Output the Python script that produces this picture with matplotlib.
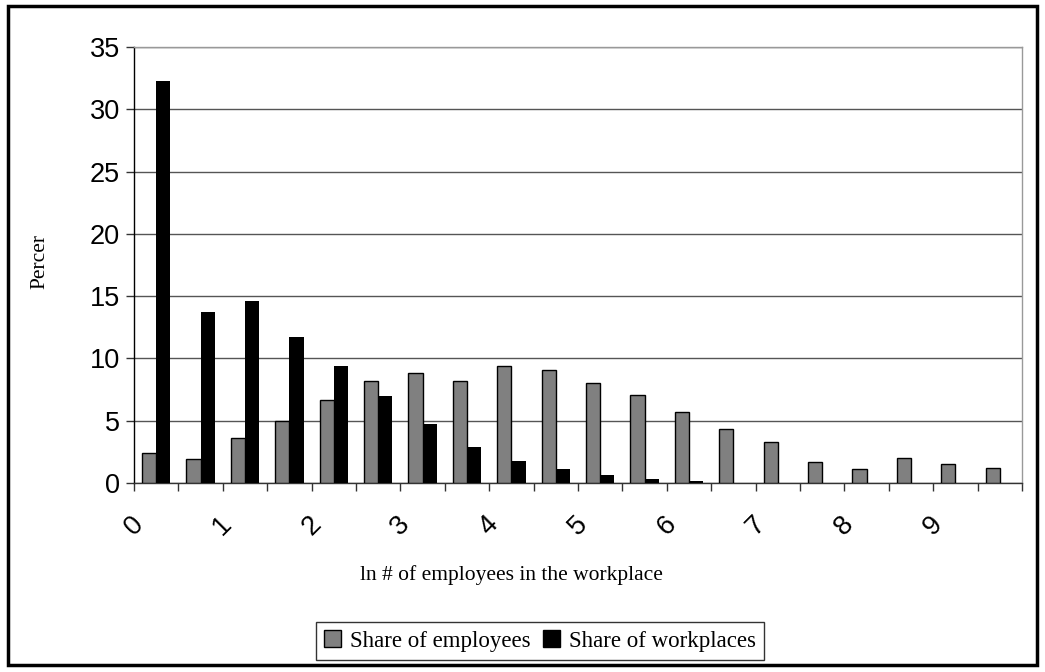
import numpy as np
import matplotlib.pyplot as plt

# ln(#employees) bins of width 0.5, starting at 0
bins = np.arange(20)
share_employees = [2.4, 1.9, 3.6, 5.0, 6.7, 8.2, 8.8, 8.2, 9.4, 9.1,
                   8.0, 7.1, 5.7, 4.3, 3.3, 1.7, 1.1, 2.0, 1.5, 1.2]
share_workplaces = [32.3, 13.7, 14.6, 11.7, 9.4, 7.0, 4.7, 2.9, 1.8, 1.1,
                    0.65, 0.3, 0.15, 0, 0, 0, 0, 0, 0, 0]
tick_labels = ["0", "1", "2", "3", "4", "5", "6", "7", "8", "9"]

fig = plt.figure(figsize=(10.45, 6.72), dpi=100)
ax = fig.add_axes([134/1045, 1-483/672, (1022-134)/1045, (483-47)/672])

w = 0.32
x = bins + 0.5
ax.bar(x - w/2, share_employees, w, color="#808080", edgecolor="black",
       linewidth=1, label="Share of employees", zorder=3)
ax.bar(x + w/2, share_workplaces, w, color="black", linewidth=0,
       label="Share of workplaces", zorder=3)

ax.set_xlim(0, 20)
ax.set_ylim(0, 35)
ax.set_yticks(range(0, 36, 5))
ax.set_xticks(range(0, 21))
ax.set_xticklabels([tick_labels[i // 2] if i % 2 == 0 and i < 20 else "" for i in range(21)],
                   rotation=45, ha="center", va="top")
ax.yaxis.grid(True, color="#555555", linewidth=1, zorder=0)
ax.set_axisbelow(True)

for lbl in ax.get_xticklabels() + ax.get_yticklabels():
    lbl.set_family("Liberation Sans")
    lbl.set_fontsize(19.5)
ax.tick_params(axis="y", direction="out", length=6, width=1, color="#333333", pad=4)
ax.tick_params(axis="x", direction="out", length=6, width=1, color="#333333", pad=14)

ax.spines["left"].set_color("black")
ax.spines["bottom"].set_color("#333333")
ax.spines["top"].set_color("#999999")
ax.spines["right"].set_color("#999999")
for s in ax.spines.values():
    s.set_linewidth(1)

fig.text(40/1045, 1-262/672, "Percer", family="Liberation Serif", fontsize=15.5,
         rotation=90, ha="center", va="center")
fig.text(511/1045, 1-575/672, "ln # of employees in the workplace",
         family="Liberation Serif", fontsize=15.5, ha="center", va="center")

leg = fig.legend(loc="center", bbox_to_anchor=(540/1045, 1-641/672), ncol=2,
                 frameon=True, fancybox=False, shadow=False, handlelength=0.75,
                 handleheight=0.75, handletextpad=0.4, columnspacing=0.5,
                 borderpad=0.35, prop={"family": "Liberation Serif", "size": 16.5})
leg.get_frame().set_edgecolor("black")
leg.get_frame().set_linewidth(1)
for h in leg.legend_handles:
    h.set_edgecolor("black")
    h.set_linewidth(1)

# outer chart border
fig.patches.append(plt.Rectangle((8/1045, 1-665/672), (1037-8)/1045, (665-6)/672,
                                 transform=fig.transFigure, fill=False,
                                 edgecolor="black", linewidth=2.5))

fig.savefig("out.png", dpi=100)
